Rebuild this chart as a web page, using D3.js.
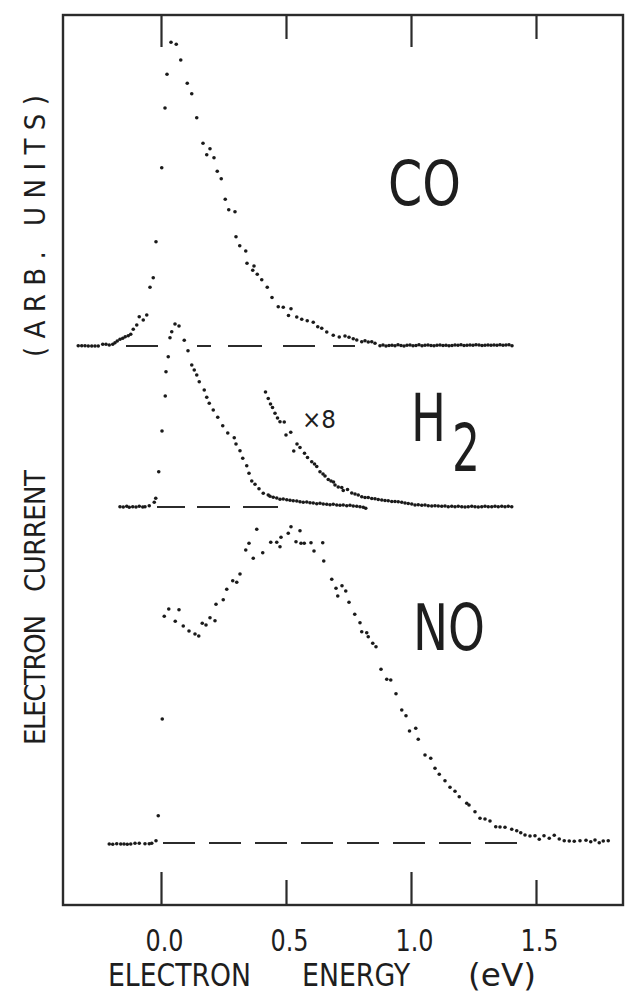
<!DOCTYPE html>
<html>
<head>
<meta charset="utf-8">
<script src="https://cdn.jsdelivr.net/npm/d3@7"></script>
<style>
  body { margin: 0; background: #fff; }
  text { font-family: "Liberation Sans Narrow", "DejaVu Sans Condensed", "DejaVu Sans", sans-serif; font-stretch: condensed; fill: #1e1e1e; }
</style>
</head>
<body>
<svg></svg>
<script>
// energy axis (eV) and tick values
const energyTicks = [0.0, 0.5, 1.0, 1.5]
const majorTicks = [0.0, 1.0]

// CO trace: electron energy (eV) vs current (arb. units above its baseline)
const coEnergy = [
  -0.331, -0.317, -0.304, -0.291, -0.277, -0.264, -0.251, -0.233, -0.22, -0.207,
  -0.193, -0.184, -0.175, -0.164, -0.153, -0.143, -0.131, -0.121, -0.111, -0.097,
  -0.087, -0.071, -0.057, -0.044, -0.031, -0.02, 0.003, 0.016, 0.024, 0.04,
  0.061, 0.079, 0.105, 0.123, 0.143, 0.168, 0.183, 0.196, 0.212, 0.225,
  0.241, 0.257, 0.271, 0.296, 0.3, 0.315, 0.339, 0.344, 0.367, 0.372,
  0.385, 0.403, 0.425, 0.444, 0.469, 0.489, 0.51, 0.52, 0.543, 0.563,
  0.585, 0.609, 0.627, 0.643, 0.663, 0.689, 0.713, 0.736, 0.752, 0.769,
  0.783, 0.803, 0.816, 0.829, 0.843, 0.856,
  0.876, 0.888, 0.9, 0.912, 0.924, 0.936, 0.948, 0.96, 0.972, 0.984,
  0.996, 1.008, 1.02, 1.032, 1.044, 1.056, 1.068, 1.08, 1.092, 1.104,
  1.116, 1.128, 1.14, 1.152, 1.164, 1.176, 1.188, 1.2, 1.212, 1.224,
  1.236, 1.248, 1.26, 1.272, 1.284, 1.296, 1.308, 1.32, 1.332, 1.344,
  1.356, 1.368, 1.38, 1.392, 1.404
]
const coCurrent = [
  -0.02, -0.02, -0.02, -0.05, -0.05, -0.05, -0.05, 0.12, 0.12, 0.05,
  0.12, 0.28, 0.45, 0.62, 0.72, 0.88, 0.98, 1.12, 1.62, 2.05,
  2.88, 2.55, 3.05, 5.82, 6.78, 10.38, 17.78, 23.75, 27.12, 30.32,
  30.12, 28.55, 26.22, 25.18, 22.78, 20.22, 19.08, 19.68, 18.78, 17.42,
  16.68, 14.62, 13.58, 13.38, 10.88, 9.98, 9.45, 8.22, 7.52, 7.95,
  7.12, 6.58, 5.82, 4.8, 3.88, 3.82, 3.0, 3.68, 2.85, 2.62,
  2.48, 2.32, 1.88, 1.72, 1.35, 1.02, 0.85, 0.95, 0.82, 0.68,
  0.55, 0.38, 0.48, 0.35, 0.38, 0.22,
  -0.02, 0.05, -0.05, 0.0, 0.02, -0.02, 0.08, 0.0, -0.05, 0.02,
  0.05, -0.02, 0.0, 0.08, -0.02, 0.02, 0.05, 0.0, -0.02, 0.02,
  0.05, 0.0, 0.02, -0.02, 0.0, 0.05, 0.02, 0.08, 0.0, 0.02,
  0.05, 0.02, 0.08, 0.05, 0.0, 0.02, 0.05, 0.02, 0.05, 0.02,
  0.08, 0.02, 0.05, 0.08, -0.02
]

// H2 trace
const h2Energy = [
  -0.164, -0.151, -0.137, -0.127, -0.113, -0.1, -0.087, -0.073, -0.064, -0.047,
  -0.027, -0.021, -0.009, 0.004, 0.017, 0.02, 0.029, 0.036, 0.043, 0.056,
  0.072, 0.093, 0.108, 0.123, 0.133, 0.143, 0.153, 0.173, 0.183, 0.193,
  0.209, 0.227, 0.247, 0.267, 0.293, 0.3, 0.316, 0.327, 0.343, 0.352,
  0.363, 0.376, 0.392, 0.409, 0.429, 0.436, 0.449, 0.463, 0.476, 0.489,
  0.503, 0.516, 0.529, 0.543, 0.556, 0.569, 0.583, 0.596, 0.609, 0.623,
  0.636, 0.649, 0.663, 0.676, 0.689, 0.703, 0.716, 0.729, 0.743, 0.756,
  0.769, 0.783, 0.796, 0.809, 0.819
]
const h2Current = [
  0.03, 0.0, 0.07, -0.03, 0.03, 0.0, 0.07, 0.0, 0.03, 0.13,
  0.47, 0.87, 3.53, 7.6, 11.1, 13.53, 15.03, 16.93, 17.53, 18.3,
  18.1, 16.67, 15.63, 14.2, 13.7, 13.2, 12.53, 11.7, 10.97, 10.37,
  9.7, 8.97, 8.13, 7.4, 6.93, 6.3, 5.63, 4.87, 4.13, 3.37,
  2.6, 2.27, 1.83, 1.37, 1.2, 1.07, 0.97, 0.9, 0.77, 0.8,
  0.73, 0.67, 0.63, 0.6, 0.53, 0.47, 0.5, 0.43, 0.4, 0.33,
  0.37, 0.3, 0.27, 0.23, 0.27, 0.2, 0.17, 0.2, 0.13, 0.17,
  0.1, 0.07, 0.03, -0.03, -0.13
]

// H2 tail magnified x8
const h2x8Energy = [
  0.418, 0.429, 0.438, 0.446, 0.456, 0.466, 0.476, 0.493, 0.5, 0.519,
  0.531, 0.544, 0.556, 0.574, 0.586, 0.603, 0.614, 0.623, 0.636, 0.648,
  0.656, 0.669, 0.68, 0.69, 0.696, 0.709, 0.723, 0.729, 0.746, 0.763,
  0.776, 0.789, 0.803, 0.816, 0.829, 0.843, 0.856, 0.869, 0.883, 0.896,
  0.909, 0.923, 0.936, 0.949, 0.963, 0.976, 0.989, 1.003, 1.016, 1.029,
  1.043, 1.056, 1.069, 1.083, 1.096, 1.109, 1.123, 1.136, 1.149, 1.163,
  1.176, 1.189, 1.203, 1.216, 1.229, 1.243, 1.256, 1.269, 1.283, 1.296,
  1.309, 1.323, 1.336, 1.349, 1.363, 1.376, 1.389, 1.403
]
const h2x8Current = [
  11.5, 10.85, 10.3, 9.95, 9.37, 8.9, 8.53, 8.5, 7.2, 7.47,
  5.6, 6.3, 5.95, 5.37, 4.95, 4.53, 4.3, 4.05, 3.53, 3.3,
  3.1, 2.75, 2.6, 2.5, 2.2, 2.0, 1.95, 1.65, 1.75, 1.4,
  1.3, 1.2, 1.03, 0.95, 0.95, 0.85, 0.83, 0.75, 0.7, 0.65,
  0.63, 0.55, 0.55, 0.53, 0.47, 0.4, 0.35, 0.3, 0.2, 0.23,
  0.17, 0.2, 0.13, 0.1, 0.13, 0.1, 0.07, 0.1, 0.03, 0.07,
  0.03, 0.07, 0.03, 0.0, 0.03, 0.07, 0.03, 0.0, 0.03, 0.07,
  0.03, 0.03, 0.07, 0.03, 0.07, 0.03, 0.07, 0.03
]

// NO trace
const noEnergy = [
  -0.207, -0.193, -0.177, -0.161, -0.148, -0.135, -0.121, -0.104, -0.087, -0.064,
  -0.047, -0.037, -0.02, -0.011, 0.005, 0.013, 0.031, 0.057, 0.072, 0.089,
  0.112, 0.136, 0.151, 0.165, 0.18, 0.196, 0.216, 0.22, 0.249, 0.263,
  0.287, 0.303, 0.316, 0.339, 0.352, 0.369, 0.383, 0.407, 0.439, 0.463,
  0.476, 0.48, 0.509, 0.52, 0.54, 0.556, 0.56, 0.573, 0.6, 0.612,
  0.647, 0.651, 0.683, 0.7, 0.707, 0.724, 0.739, 0.752, 0.775, 0.796,
  0.803, 0.823, 0.829, 0.847, 0.86, 0.88, 0.903, 0.919, 0.94, 0.963,
  0.98, 0.994, 1.019, 1.029, 1.056, 1.079, 1.096, 1.113, 1.136, 1.156,
  1.176, 1.193, 1.223, 1.232, 1.256, 1.276, 1.296, 1.316, 1.339, 1.356,
  1.376, 1.403, 1.423, 1.439, 1.456, 1.476, 1.496, 1.513, 1.532, 1.553,
  1.573, 1.593, 1.613, 1.633, 1.653, 1.676, 1.7, 1.719, 1.736, 1.753,
  1.769, 1.789
]
const noCurrent = [
  -0.1, -0.13, -0.07, -0.1, -0.1, -0.13, -0.1, -0.03, -0.03, -0.07,
  -0.07, -0.03, 0.23, 2.73, 12.4, 22.67, 23.4, 22.17, 23.33, 21.7,
  21.2, 20.9, 20.7, 21.97, 21.8, 22.53, 22.23, 23.87, 24.33, 25.37,
  26.23, 26.07, 26.9, 29.3, 29.97, 28.47, 31.37, 29.03, 30.07, 30.07,
  29.63, 30.57, 30.97, 31.63, 30.13, 31.23, 29.97, 29.97, 30.03, 29.2,
  30.03, 28.2, 26.37, 25.47, 24.7, 25.73, 25.2, 24.07, 22.87, 22.03,
  21.13, 21.03, 20.63, 19.97, 19.63, 17.37, 16.37, 16.3, 14.93, 13.3,
  12.72, 11.2, 11.47, 10.38, 8.8, 8.47, 7.47, 6.87, 6.23, 5.57,
  5.17, 4.63, 3.97, 3.8, 3.13, 2.47, 2.4, 2.2, 1.63, 1.6,
  1.57, 1.37, 1.23, 1.03, 0.8, 0.7, 0.73, 0.37, 0.73, 0.47,
  0.77, 0.4, 0.23, 0.2, 0.17, 0.23, 0.27, 0.13, 0.3, 0.03,
  0.2, 0.23
]

// vertical offsets of each trace and extent of its zero line (eV)
const coOffset = 55.95
const h2Offset = 39.8
const noOffset = 6.2
const coBaseline = [-0.14, 0.776]
const h2Baseline = [-0.016, 0.468]
const noBaseline = [0.008, 1.428]

const W = 625, H = 998
const pd = { top: 15, left: 63, right: 2, bottom: 93 }
const iw = W - pd.left - pd.right
const ih = H - pd.top - pd.bottom

const svg = d3.select('svg')
  .attr('width', W)
  .attr('height', H)

const x = d3.scaleLinear()
  .domain([-0.392, 1.848])
  .range([pd.left, pd.left + iw])

const y = d3.scaleLinear()
  .domain([0, 89])
  .range([pd.top + ih, pd.top])

// frame
svg.append('rect')
  .attr('x', pd.left)
  .attr('y', pd.top)
  .attr('width', iw)
  .attr('height', ih)
  .attr('fill', 'none')
  .attr('stroke', '#2b2b2b')
  .attr('stroke-width', 2.4)

// bottom axis: ticks pointing inside, labels below
const xb = svg.append('g')
  .attr('transform', `translate(0, ${pd.top + ih})`)
  .call(d3.axisBottom(x)
    .tickValues(energyTicks)
    .tickSize(-33)
    .tickPadding(24)
    .tickFormat(d3.format('.1f')))
xb.select('.domain').remove()
xb.selectAll('.tick line')
  .attr('stroke', '#2b2b2b')
  .attr('stroke-width', 2.2)
  .attr('y2', d => majorTicks.includes(d) ? -33 : -25)
xb.selectAll('.tick text')
  .attr('font-size', 31)
  .attr('font-family', null)
  .attr('dx', 3)
  .attr('fill', '#1e1e1e')
  .attr('textLength', 38)
  .attr('lengthAdjust', 'spacingAndGlyphs')

// top axis
const xt = svg.append('g')
  .attr('transform', `translate(0, ${pd.top})`)
  .call(d3.axisTop(x)
    .tickValues(energyTicks)
    .tickSize(-32)
    .tickFormat(''))
xt.select('.domain').remove()
xt.selectAll('.tick line')
  .attr('stroke', '#2b2b2b')
  .attr('stroke-width', 2.2)
  .attr('y2', d => majorTicks.includes(d) ? 32 : 24)

// axis titles
const xTitle = [['ELECTRON', 108, 143], ['ENERGY', 302, 108], ['(eV)', 468, 68]]
svg.append('g')
  .selectAll('text')
  .data(xTitle)
  .enter()
  .append('text')
  .attr('x', d => d[1])
  .attr('y', 986)
  .attr('font-size', 32)
  .attr('textLength', d => d[2])
  .attr('lengthAdjust', 'spacingAndGlyphs')
  .text(d => d[0])

const yTitle = [['ELECTRON', 745, 130], ['CURRENT', 592, 122], ['(ARB. UNITS)', 357, 262]]
svg.append('g')
  .selectAll('text')
  .data(yTitle)
  .enter()
  .append('text')
  .attr('transform', d => `translate(45, ${d[1]}) rotate(-90)`)
  .attr('font-size', 29)
  .attr('textLength', d => d[2])
  .attr('lengthAdjust', 'spacing')
  .text(d => d[0])

// zero lines
const zeroLine = (ext, off, dash) => svg.append('line')
  .attr('x1', x(ext[0]))
  .attr('x2', x(ext[1]))
  .attr('y1', y(off))
  .attr('y2', y(off))
  .attr('stroke', '#2b2b2b')
  .attr('stroke-width', 2)
  .attr('stroke-dasharray', dash)
zeroLine(coBaseline, coOffset - 0.05, '32,39,14,17,34,21,32,18,22')
zeroLine(h2Baseline, h2Offset, '28,12,33,13,35')
zeroLine(noBaseline, noOffset, '32,14')

// dotted traces
const dots = (es, cs, off) => svg.append('g')
  .selectAll('circle')
  .data(es.map((e, i) => [e, cs[i]]))
  .enter()
  .append('circle')
  .attr('cx', d => x(d[0]))
  .attr('cy', d => y(d[1] + off))
  .attr('r', 1.8)
  .attr('fill', '#1a1a1a')
dots(coEnergy, coCurrent, coOffset)
dots(h2Energy, h2Current, h2Offset)
dots(h2x8Energy, h2x8Current, h2Offset)
dots(noEnergy, noCurrent, noOffset)

// trace labels
const label = (txt, lx, ly, size, len) => svg.append('text')
  .attr('x', lx).attr('y', ly)
  .attr('font-size', size)
  .attr('textLength', len)
  .attr('lengthAdjust', 'spacingAndGlyphs')
  .text(txt)

label('CO', 388, 205, 62, 73)
label('H', 411, 441, 66, 35)
label('2', 452, 471, 66, 28)
label('×8', 302, 428, 24, 34)
label('NO', 413, 650, 64, 72)
</script>
</body>
</html>
